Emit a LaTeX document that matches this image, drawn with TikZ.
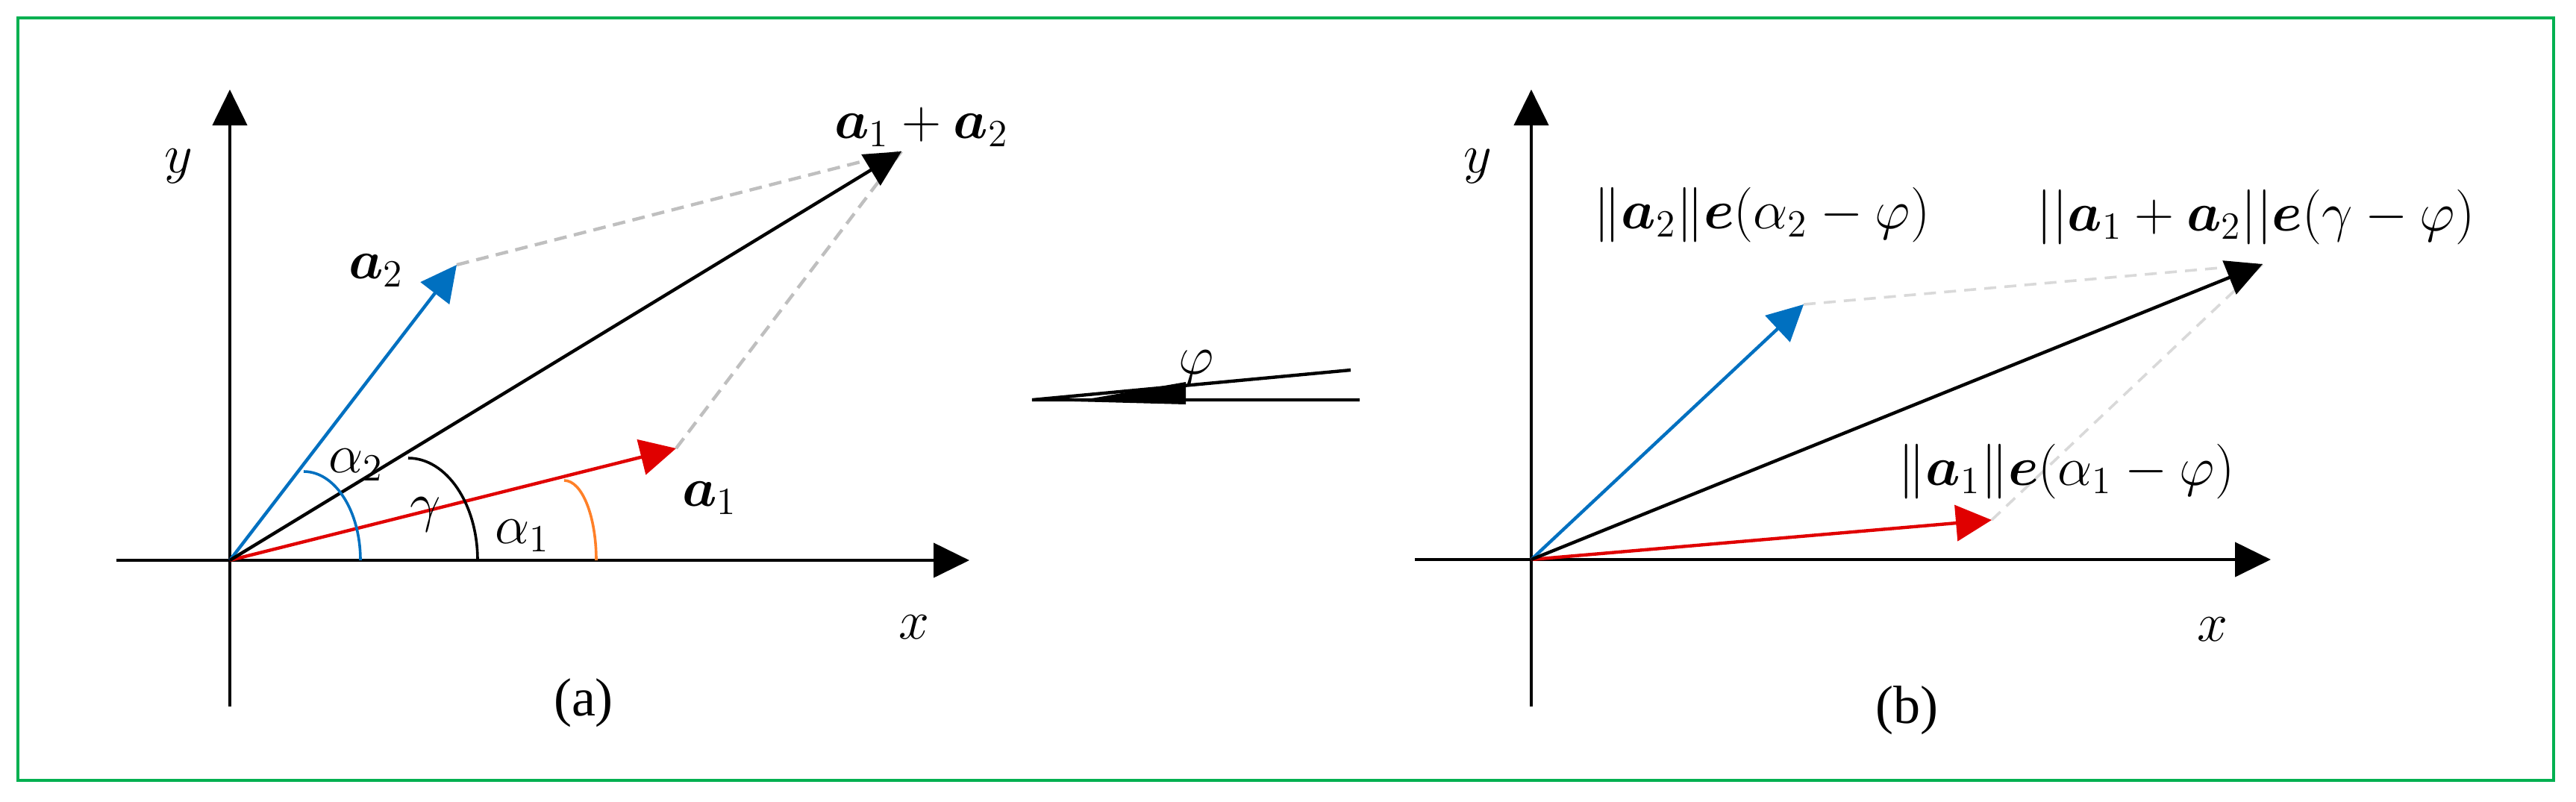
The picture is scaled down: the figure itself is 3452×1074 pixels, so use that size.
\RequirePackage{fix-cm}
\documentclass[tikz,border=0pt]{standalone}
\usepackage{amsmath,bm}
\usepackage{fontspec}
\newfontfamily\tnr{Liberation Serif}
\usetikzlibrary{arrows.meta}
\definecolor{bdgreen}{RGB}{0,176,80}
\definecolor{vblue}{RGB}{0,112,192}
\definecolor{vred}{RGB}{224,0,0}
\definecolor{vorange}{RGB}{255,128,40}
\definecolor{dgray}{RGB}{191,191,191}
\definecolor{lgray}{RGB}{217,217,217}
\begin{document}
\begin{tikzpicture}[x=0.25pt,y=-0.25pt,
  axis/.style={line width=1.1pt,-{Triangle[length=12pt,width=11.5pt]}},
  vec/.style={line width=1.1pt,-{Triangle[length=12pt,width=12pt]}},
  guide/.style={line width=1.1pt,dash pattern=on 4.25pt off 2.5pt},
  guideb/.style={line width=0.9pt,dash pattern=on 4pt off 2.75pt},
  ang/.style={line width=0.9pt},
  lab/.style={inner sep=0pt,font=\fontsize{18.4}{22}\selectfont},
  captext/.style={inner sep=0pt,font=\fontsize{18}{22}\selectfont\tnr}]
\useasboundingbox (0,0) rectangle (3452,1074);
\draw[bdgreen,line width=1pt] (24,24) rectangle (3422,1046);

% ---------- panel (a)
\coordinate (Oa) at (308,751);
\coordinate (xa0) at (156,751);
\coordinate (xa1) at (1299,751);
\coordinate (ya0) at (308,947);
\coordinate (ya1) at (308,120);
\coordinate (A2) at (612,355);
\coordinate (A1) at (906,601);
\coordinate (S) at (1208,203);
\draw[axis] (xa0) -- (xa1);
\draw[axis] (ya0) -- (ya1);
\draw[guide,dgray] (A2) -- (S);
\draw[guide,dgray] (A1) -- (S);
\draw[vec,vblue] (Oa) -- (A2);
\draw[vec,vred] (Oa) -- (A1);
\draw[vec] (Oa) -- (S);
\draw[ang,vblue] (407,632) .. controls (449,632) and (483,685) .. (483,751);
\draw[ang] (547,614) .. controls (598,614) and (640,675) .. (640,751);
\draw[ang,vorange] (756,644) .. controls (780,644) and (799,692) .. (799,751);
\node[lab] (ya) at (239,223) {$y$};
\node[lab] (xa) at (1225,841) {$x$};
\node[captext] (capa) at (782,942) {(a)};
\node[lab] (la2) at (504,363) {$\bm{a}_2$};
\node[lab] (la1) at (951,668) {$\bm{a}_1$};
\node[lab] (lsum) at (1235,170) {$\bm{a}_1+\bm{a}_2$};
\node[lab] (lal2) at (477,623) {$\alpha_2$};
\node[lab] (lgam) at (570,690) {$\gamma$};
\node[lab] (lal1) at (700,718) {$\alpha_1$};

% ---------- middle rotation sign
\coordinate (P) at (1383,536);
\coordinate (Ph) at (1822,536);
\coordinate (Pi) at (1810,496);
\draw[line width=1.1pt] (Ph) -- (P) -- (Pi);
\fill (1440,538) -- (1589,512) -- (1589,542) -- cycle;
\node[lab] (phi) at (1603,493) {$\varphi$};

% ---------- panel (b)
\coordinate (Ob) at (2052,750);
\coordinate (xb0) at (1896,750);
\coordinate (xb1) at (3043,750);
\coordinate (yb0) at (2052,947);
\coordinate (yb1) at (2052,120);
\coordinate (B2) at (2417,408);
\coordinate (B1) at (2669,697);
\coordinate (T) at (3032,354);
\draw[axis] (xb0) -- (xb1);
\draw[axis] (yb0) -- (yb1);
\draw[guideb,lgray] (B2) -- (T);
\draw[guideb,lgray] (B1) -- (T);
\draw[vec,vblue] (Ob) -- (B2);
\draw[vec,vred] (Ob) -- (B1);
\draw[vec] (Ob) -- (T);
\node[lab] (yb) at (1980,223) {$y$};
\node[lab] (xb) at (2965,844) {$x$};
\node[captext] (capb) at (2555,952) {(b)};
\node[lab] (lb2) at (2361,288) {$\|\bm{a}_2\|\bm{e}(\alpha_2-\varphi)$};
\node[lab] (lbs) at (3023,291) {$||\bm{a}_1+\bm{a}_2||\bm{e}(\gamma-\varphi)$};
\node[lab] (lb1) at (2769,632) {$\|\bm{a}_1\|\bm{e}(\alpha_1-\varphi)$};
\end{tikzpicture}
\end{document}
